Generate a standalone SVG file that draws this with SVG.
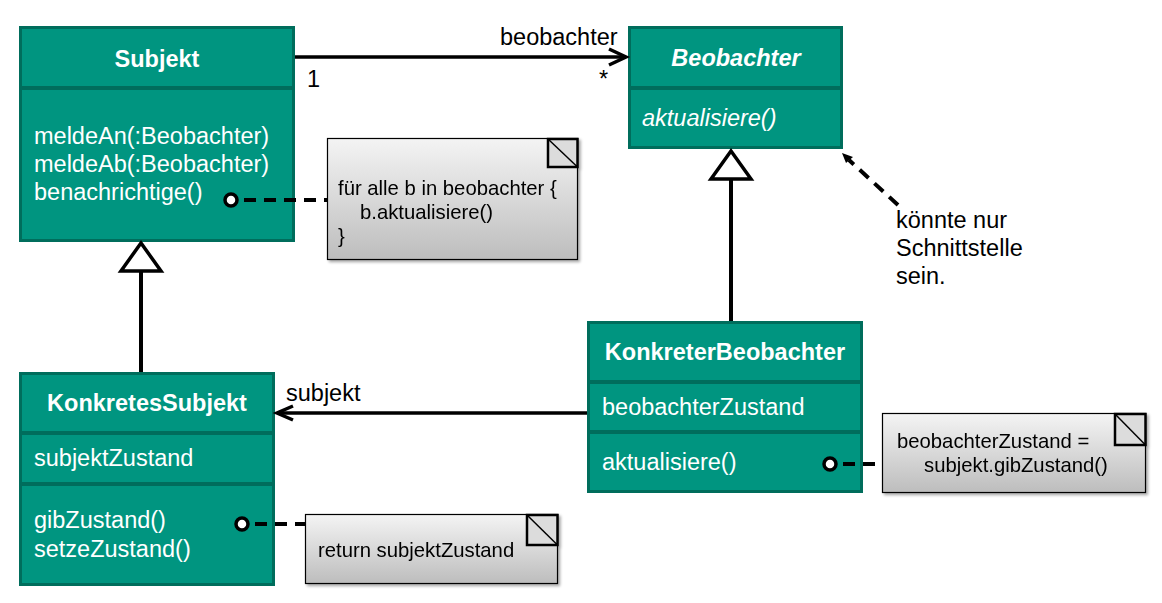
<svg xmlns="http://www.w3.org/2000/svg" width="1162" height="603" viewBox="0 0 1162 603">
<defs>
<linearGradient id="ng" x1="0" y1="0" x2="0" y2="1">
<stop offset="0" stop-color="#f4f4f4"/>
<stop offset="1" stop-color="#bdbdbd"/>
</linearGradient>
<filter id="sh" x="-5%" y="-5%" width="115%" height="120%">
<feGaussianBlur in="SourceAlpha" stdDeviation="1.5"/>
<feOffset dx="2" dy="2" result="b"/>
<feComponentTransfer><feFuncA type="linear" slope="0.35"/></feComponentTransfer>
<feMerge><feMergeNode/><feMergeNode in="SourceGraphic"/></feMerge>
</filter>
</defs>
<style>
.box{fill:#009580;stroke:#006d5c;stroke-width:3}
.div{stroke:#006d5c;stroke-width:4}
.t{font-family:"Liberation Sans",Arial,sans-serif;font-size:23.5px;fill:#ffffff}
.tb{font-family:"Liberation Sans",Arial,sans-serif;font-size:23.5px;font-weight:bold;fill:#ffffff}
.lbl{font-family:"Liberation Sans",Arial,sans-serif;font-size:23.5px;fill:#000000}
.nt{font-family:"Liberation Sans",Arial,sans-serif;font-size:20.3px;fill:#000000}
.note{fill:url(#ng);stroke:#000;stroke-width:1.2}
.corner{fill:#dcdcdc;stroke:#000;stroke-width:2.5}
.ln{stroke:#000;stroke-width:3.5;fill:none}
.gen{stroke:#000;stroke-width:4;fill:none}
.tri{fill:#fff;stroke:#000;stroke-width:3.5;stroke-linejoin:miter}
.dash{stroke:#000;stroke-width:4;stroke-dasharray:12 8;fill:none}
.pin{fill:#fff;stroke:#000;stroke-width:3.5}
</style>

<g id="subjekt">
<rect class="box" x="20.5" y="27.5" width="273" height="213"/>
<line class="div" x1="20.5" y1="88" x2="293.5" y2="88"/>
<text class="tb" x="157" y="67" text-anchor="middle">Subjekt</text>
<text class="t" x="34" y="144">meldeAn(:Beobachter)</text>
<text class="t" x="34" y="172">meldeAb(:Beobachter)</text>
<text class="t" x="34" y="200">benachrichtige()</text>
</g>

<g id="beobachter">
<rect class="box" x="629.5" y="27.5" width="212" height="120"/>
<line class="div" x1="629.5" y1="88" x2="841.5" y2="88"/>
<text class="tb" x="736" y="66" text-anchor="middle" font-style="italic">Beobachter</text>
<text class="t" x="642" y="126" font-style="italic">aktualisiere()</text>
</g>

<g id="konkreterBeobachter">
<rect class="box" x="588.5" y="322.5" width="273" height="169"/>
<line class="div" x1="588.5" y1="382" x2="861.5" y2="382"/>
<line class="div" x1="588.5" y1="432" x2="861.5" y2="432"/>
<text class="tb" x="725" y="360" text-anchor="middle">KonkreterBeobachter</text>
<text class="t" x="602" y="415">beobachterZustand</text>
<text class="t" x="602" y="470">aktualisiere()</text>
</g>

<g id="konkretesSubjekt">
<rect class="box" x="20.5" y="373.5" width="253" height="211"/>
<line class="div" x1="20.5" y1="433" x2="273.5" y2="433"/>
<line class="div" x1="20.5" y1="484" x2="273.5" y2="484"/>
<text class="tb" x="147" y="411" text-anchor="middle">KonkretesSubjekt</text>
<text class="t" x="34" y="466">subjektZustand</text>
<text class="t" x="34" y="528">gibZustand()</text>
<text class="t" x="34" y="557">setzeZustand()</text>
</g>

<g id="connectors">
<line class="ln" x1="295" y1="57" x2="625" y2="57"/>
<polyline class="ln" points="609,49 626,57 609,65"/>
<text class="lbl" x="500" y="45">beobachter</text>
<text class="lbl" x="307" y="87">1</text>
<text class="lbl" x="599" y="87">*</text>

<line class="gen" x1="141" y1="271" x2="141" y2="372"/>
<polygon class="tri" points="141,243 121,271 161,271"/>

<line class="gen" x1="731" y1="179" x2="731" y2="321"/>
<polygon class="tri" points="731,151 711,179 751,179"/>

<line class="ln" x1="587" y1="413" x2="278" y2="413"/>
<polyline class="ln" points="293,406 277,413 293,420"/>
<text class="lbl" x="286" y="401">subjekt</text>

<line class="dash" x1="898" y1="205" x2="849" y2="160" stroke-dasharray="11 8"/>
<polygon points="842,153 853,157 846,163" fill="#000"/>

<line class="dash" x1="244" y1="200" x2="327" y2="200"/>
<circle class="pin" cx="231" cy="200" r="6"/>
<line class="dash" x1="255" y1="524" x2="305" y2="524"/>
<circle class="pin" cx="242" cy="524" r="6"/>
<line class="dash" x1="843" y1="464" x2="882" y2="464"/>
<circle class="pin" cx="830" cy="464" r="6"/>
</g>

<g id="note1" filter="url(#sh)">
<rect class="note" x="327.5" y="138.5" width="250" height="121"/>
<rect class="corner" x="548" y="139" width="29.5" height="28"/>
<line x1="548" y1="139" x2="577.5" y2="167" stroke="#000" stroke-width="1.5"/>
<text class="nt" x="338" y="195">für alle b in beobachter {</text>
<text class="nt" x="360" y="219">b.aktualisiere()</text>
<text class="nt" x="338" y="243">}</text>
</g>

<g id="note2" filter="url(#sh)">
<rect class="note" x="305.5" y="514.5" width="252" height="69"/>
<rect class="corner" x="527" y="515" width="30.5" height="30"/>
<line x1="527" y1="515" x2="557.5" y2="545" stroke="#000" stroke-width="1.5"/>
<text class="nt" x="318" y="557">return subjektZustand</text>
</g>

<g id="note3" filter="url(#sh)">
<rect class="note" x="882.5" y="413.5" width="263" height="79"/>
<rect class="corner" x="1115" y="414" width="30.5" height="31"/>
<line x1="1115" y1="414" x2="1145.5" y2="445" stroke="#000" stroke-width="1.5"/>
<text class="nt" x="897" y="448">beobachterZustand =</text>
<text class="nt" x="924" y="472">subjekt.gibZustand()</text>
</g>

<g id="hinweis">
<text class="lbl" x="896" y="228">könnte nur</text>
<text class="lbl" x="896" y="256">Schnittstelle</text>
<text class="lbl" x="896" y="284">sein.</text>
</g>
</svg>
